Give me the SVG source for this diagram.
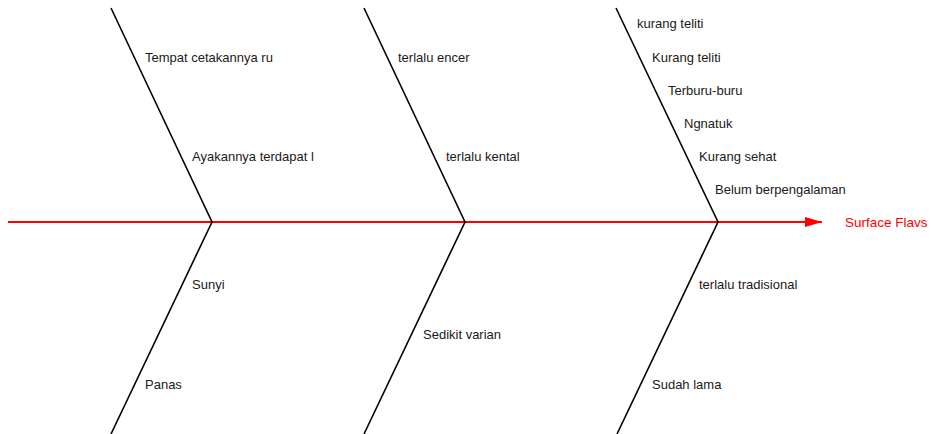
<svg xmlns="http://www.w3.org/2000/svg" width="931" height="434" viewBox="0 0 931 434">
<style>
.t{font-family:"Liberation Sans",Arial,sans-serif;font-size:13px;fill:#1a1a1a}
.b{stroke:#000;stroke-width:1.6;fill:none}
.h{font-family:"Liberation Sans",Arial,sans-serif;font-size:13.5px;fill:#ff0000}
</style>
<defs>
<marker id="arr" markerWidth="17" markerHeight="10" refX="17" refY="5" orient="auto" markerUnits="userSpaceOnUse">
<path d="M0,0 L17,5 L0,10 Z" fill="#ff0000"/>
</marker>
</defs>
<rect width="931" height="434" fill="#fff"/>
<g id="connectors">
<line x1="8" y1="222" x2="822" y2="222" stroke="#ff0000" stroke-width="2" marker-end="url(#arr)"/>
<polyline class="b" points="111,8 212,222 111,434"/>
<polyline class="b" points="364,8 465,222 364,434"/>
<polyline class="b" points="616,8 718,222 617,434"/>
</g>
<g id="head"><text class="h" x="845" y="227">Surface Flavs</text></g>
<g id="bone1">
<text class="t" x="145" y="62">Tempat cetakannya ru</text>
<text class="t" x="192" y="161">Ayakannya terdapat l</text>
<text class="t" x="192" y="289">Sunyi</text>
<text class="t" x="145" y="389">Panas</text>
</g>
<g id="bone2">
<text class="t" x="398" y="62">terlalu encer</text>
<text class="t" x="446" y="161">terlalu kental</text>
<text class="t" x="423" y="339">Sedikit varian</text>
</g>
<g id="bone3">
<text class="t" x="637" y="28">kurang teliti</text>
<text class="t" x="652" y="62">Kurang teliti</text>
<text class="t" x="668" y="95">Terburu-buru</text>
<text class="t" x="684" y="128">Ngnatuk</text>
<text class="t" x="699" y="161">Kurang sehat</text>
<text class="t" x="715" y="194">Belum berpengalaman</text>
<text class="t" x="699" y="289">terlalu tradisional</text>
<text class="t" x="652" y="389">Sudah lama</text>
</g>
</svg>
